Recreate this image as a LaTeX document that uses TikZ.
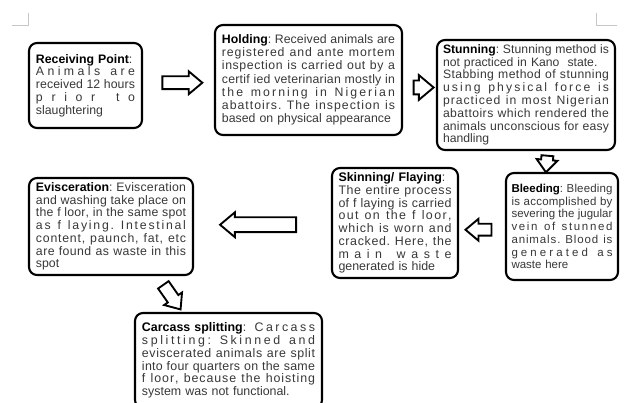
\documentclass[tikz,border=0pt]{standalone}
\usepackage{fontspec}
\setmainfont{Liberation Sans}
\usepackage{xcolor}
\usetikzlibrary{shapes.arrows, positioning, calc}

%% width of the text in the current step box
\newlength{\stepw}
\newcommand{\ttl}[1]{\textcolor{black}{\bfseries #1}}
%% letter-spread justified lines: plain (\jls) and with a title (\jlt)
\ExplSyntaxOn
\cs_new_protected:Npn \step_spread:n #1
  {
    \str_map_inline:nn {#1}
      {
        \str_if_eq:nnTF {##1} {~} { \hskip \fontdimen2\font \relax } { ##1 }
        \hskip 0pt plus 1fil \relax
      }
    \unskip
  }
\NewDocumentCommand\jls{m}
  { \makebox[\stepw][s]{ \step_spread:n {#1} } }
\NewDocumentCommand\jlt{mm}
  { \makebox[\stepw][s]{ \ttl{#1} \step_spread:n {#2} } }
\ExplSyntaxOff

\tikzset{
  %% Process step box
  stepbox/.style={
    rectangle, rounded corners=0.24cm,
    draw=black, line width=1.8pt, fill=white,
    text=black!78, align=left,
    font=\fontsize{#1}{10.9}\selectfont,
    inner sep=0pt, outer sep=0pt
  },
  stepbox/.default=10.5,
  tw/.style={text width=#1, execute at begin node={\setlength{\stepw}{#1}}},
  %% Hollow block arrow: length, half shaft, head extend
  barrow/.style n args={3}{
    single arrow, draw=black, fill=white, line width=1.6pt,
    inner xsep=0pt, inner ysep=#2, outer sep=0pt,
    single arrow head extend=#3, single arrow tip angle=80,
    minimum height=#1
  },
}

\begin{document}
\begin{tikzpicture}[x=0.03cm, y=-0.03cm]

  \useasboundingbox (0,0) rectangle (637,403);

  %% Page corner marks
  \draw[gray!45, line width=0.6pt] (12,25) -- (28,25) -- (28,13);
  \draw[gray!45, line width=0.6pt] (596,13) -- (596,25) -- (617,25);

  %% Steps
  \node[stepbox=10.5, minimum width=3.39cm, minimum height=2.55cm, tw=2.97cm]
       (recv) at (85.5,85.5)
       {\ttl{Receiving Point}:\\ \jls{Animals are}\\ \jls{received 12 hours}\\
        \jls{prior to}\\ slaughtering};

  \node[stepbox, font=\fontsize{10.5}{11.3}\selectfont,
        minimum width=5.61cm, minimum height=3.3cm, tw=5.19cm]
       (hold) at (308.5,80)
       {\jlt{Holding}{: Received animals are}\\ \jls{registered and ante mortem}\\
        \jls{inspection is carried out by a}\\ \jls{certif ied veterinarian mostly in}\\
        \jls{the morning in Nigerian}\\ \jls{abattoirs. The inspection is}\\
        based on physical appearance};

  \node[stepbox=10.4, minimum width=5.34cm, minimum height=3.3cm, tw=4.98cm]
       (stun) at (526,95)
       {\jlt{Stunning}{: Stunning method is}\\ not practiced in Kano\ \ state.\\
        \jls{Stabbing method of stunning}\\ \jls{using physical force is}\\
        \jls{practiced in most Nigerian}\\ \jls{abattoirs which rendered the}\\
        \jls{animals unconscious for easy}\\ handling};

  \node[stepbox=9.8, minimum width=3.36cm, minimum height=3.21cm, tw=3.03cm]
       (bleed) at (562,226.5)
       {\jlt{Bleeding}{: Bleeding}\\ \jls{is accomplished by}\\
        \jls{severing the jugular}\\ \jls{vein of stunned}\\ \jls{animals. Blood is}\\
        \jls{generated as}\\ waste here};

  \node[stepbox=10.6, minimum width=3.78cm, minimum height=3.3cm, tw=3.39cm]
       (skin) at (395,223)
       {\ttl{Skinning/ Flaying}:\\ \jls{The entire process}\\
        \jls{of f laying is carried}\\ \jls{out on the f loor,}\\ \jls{which is worn and}\\
        \jls{cracked. Here, the}\\ \jls{main waste}\\ generated is hide};

  \node[stepbox=10.5, minimum width=4.92cm, minimum height=2.91cm, tw=4.5cm]
       (evis) at (111,226.5)
       {\jlt{Evisceration}{: Evisceration}\\ \jls{and washing take place on}\\
        \jls{the f loor, in the same spot}\\ \jls{as f laying. Intestinal}\\
        \jls{content, paunch, fat, etc}\\ \jls{are found as waste in this}\\ spot};

  \node[stepbox=10.6, minimum width=5.61cm, minimum height=2.85cm, tw=5.19cm]
       (carc) at (228.5,360.5)
       {\jlt{Carcass splitting}{: Carcass}\\ \jls{splitting: Skinned and}\\
        \jls{eviscerated animals are split}\\ \jls{into four quarters on the same}\\
        \jls{f loor, because the hoisting}\\ system was not functional.};

  %% Block arrows between steps
  \node[barrow={1.2cm}{0.165cm}{0.15cm}]
       (a1) at ($(recv.east)!0.5!(hold.west)$) {};
  \node[barrow={0.6cm}{0.18cm}{0.165cm}]
       (a2) at ($(hold.east)!0.5!(stun.west)$) {};
  \node[barrow={0.5cm}{0.15cm}{0.135cm}, rotate=-95]
       (a3) at ($(stun.south)!0.5!(bleed.north)+(3,-1)$) {};
  \node[barrow={0.78cm}{0.15cm}{0.15cm}, rotate=180]
       (a4) at ($(skin.east)!0.5!(bleed.west)+(0,5)$) {};
  \node[barrow={2.28cm}{0.195cm}{0.15cm}, rotate=180]
       (a5) at ($(evis.east)!0.5!(skin.west)$) {};
  \node[barrow={0.9cm}{0.165cm}{0.135cm}, rotate=-55]
       (a6) at ($(evis.south)!0.5!(carc.north)$) {};

\end{tikzpicture}
\end{document}
